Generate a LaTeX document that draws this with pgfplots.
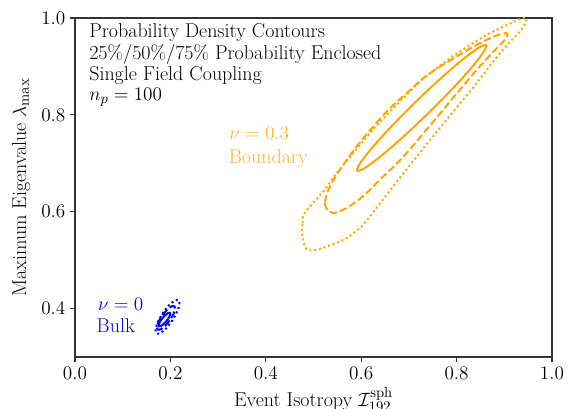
\documentclass[border=0pt]{standalone}
\usepackage{pgfplots}
\pgfplotsset{compat=1.18}

\definecolor{mplorange}{RGB}{255,165,0}
\definecolor{mplblue}{RGB}{0,0,255}

\newcommand{\txtfont}{\fontsize{15}{16}\selectfont}
\newcommand{\tckfont}{\fontsize{15.5}{17}\selectfont}

\pgfplotsset{
  c25/.style={line width=1.5pt, smooth, tension=0.55},
  c50/.style={line width=1.5pt, smooth, tension=0.55, dash pattern=on 5.5pt off 2.4pt},
  c75/.style={line width=1.5pt, smooth, tension=0.55, line cap=butt, dash pattern=on 1.5pt off 2.1pt},
}

\begin{document}
\begin{tikzpicture}
\begin{axis}[
  name=ax,
  scale only axis,
  width=357.75pt, height=254.25pt,
  xmin=0, xmax=1, ymin=0.3, ymax=1.0,
  xtick={0,0.2,0.4,0.6,0.8,1.0},
  ytick={0.4,0.6,0.8,1.0},
  tick align=outside,
  major tick length=3.75pt,
  tick style={black!80, line width=0.8pt},
  xtick pos=bottom, ytick pos=left,
  axis line style={black!80, line width=0.9pt},
  /pgf/number format/.cd, fixed, fixed zerofill, precision=1,
  /pgfplots/.cd,
  ticklabel style={font=\tckfont},
  xlabel={Event Isotropy $\mathcal{I}^{\mathrm{sph}}_{192}$},
  ylabel={Maximum Eigenvalue $\lambda_{\max}$},
  label style={font=\txtfont},
  xlabel style={at={(axis description cs:0.5,-0.1475)}, anchor=base},
  ylabel style={at={(axis description cs:-0.1027,0.5)}, anchor=base},
]

% nu = 0.3 (boundary): 25% enclosed
\addplot[c25, mplorange] coordinates {
(0.7390,0.8017) (0.6864,0.7531) (0.6400,0.7138) (0.6067,0.6897)
(0.5917,0.6847) (0.5972,0.6993) (0.6225,0.7315) (0.6635,0.7762)
(0.7142,0.8268) (0.7668,0.8754) (0.8132,0.9147) (0.8465,0.9387)
(0.8615,0.9438) (0.8561,0.9291) (0.8308,0.8969) (0.7898,0.8523)
(0.7390,0.8017)};

% nu = 0.3 (boundary): 50% enclosed
\addplot[c50, mplorange] coordinates {
(0.5241,0.6192) (0.5311,0.6454) (0.5555,0.6866) (0.5905,0.7347)
(0.6254,0.7760) (0.6603,0.8138) (0.6953,0.8447) (0.7302,0.8756)
(0.7652,0.8997) (0.8001,0.9203) (0.8350,0.9409) (0.8700,0.9581)
(0.8980,0.9684) (0.9063,0.9670) (0.9049,0.9601) (0.8944,0.9478)
(0.8770,0.9305) (0.8550,0.9070) (0.8350,0.8850) (0.8150,0.8610)
(0.7930,0.8360) (0.7650,0.8020) (0.7370,0.7700) (0.7100,0.7380)
(0.6880,0.7130) (0.6650,0.6900) (0.6390,0.6660) (0.6150,0.6420)
(0.5900,0.6210) (0.5625,0.6041) (0.5416,0.5973) (0.5290,0.6041)
(0.5241,0.6144) (0.5241,0.6192)};

% nu = 0.3 (boundary): 75% enclosed
\addplot[c75, mplorange] coordinates {
(0.4773,0.5766) (0.4787,0.5938) (0.4926,0.6110) (0.5206,0.6419)
(0.5485,0.6797) (0.5835,0.7210) (0.6184,0.7622) (0.6534,0.8000)
(0.6883,0.8344) (0.7232,0.8687) (0.7582,0.8962) (0.7931,0.9217)
(0.8281,0.9443) (0.8630,0.9650) (0.8980,0.9821) (0.9259,0.9945)
(0.9434,1.0014) (0.9455,0.9924) (0.9329,0.9718) (0.9155,0.9546)
(0.8910,0.9272) (0.8680,0.8990) (0.8420,0.8654) (0.8150,0.8330)
(0.7900,0.8030) (0.7650,0.7730) (0.7400,0.7430) (0.7100,0.7060)
(0.6780,0.6660) (0.6450,0.6240) (0.6180,0.5900) (0.5980,0.5670)
(0.5650,0.5430) (0.5300,0.5290) (0.4996,0.5203) (0.4856,0.5230)
(0.4787,0.5388) (0.4759,0.5594) (0.4773,0.5766)};

% nu = 0 (bulk): 25% enclosed
\addplot[c25, mplblue] coordinates {
(0.1917,0.3740) (0.1853,0.3676) (0.1796,0.3637) (0.1761,0.3635)
(0.1756,0.3670) (0.1783,0.3732) (0.1836,0.3806) (0.1899,0.3871)
(0.1956,0.3910) (0.1992,0.3911) (0.1997,0.3877) (0.1969,0.3814)
(0.1917,0.3740)};

% nu = 0 (bulk): 50% enclosed
\addplot[c50, mplblue] coordinates {
(0.1985,0.3753) (0.1887,0.3640) (0.1796,0.3572) (0.1734,0.3567)
(0.1719,0.3626) (0.1754,0.3734) (0.1831,0.3861) (0.1928,0.3974)
(0.2020,0.4042) (0.2082,0.4047) (0.2097,0.3988) (0.2061,0.3881)
(0.1985,0.3753)};

% nu = 0 (bulk): 75% enclosed
\addplot[c75, mplblue] coordinates {
(0.2045,0.3761) (0.1917,0.3598) (0.1796,0.3497) (0.1713,0.3485)
(0.1690,0.3564) (0.1735,0.3714) (0.1834,0.3895) (0.1961,0.4058)
(0.2082,0.4159) (0.2166,0.4171) (0.2188,0.4092) (0.2144,0.3941)
(0.2045,0.3761)};

% annotations
\node[anchor=base west, inner sep=0pt, font=\txtfont] at (axis cs:0.0294,0.9602) {Probability Density Contours};
\node[anchor=base west, inner sep=0pt, font=\txtfont] at (axis cs:0.0294,0.9148) {25\%/50\%/75\% Probability Enclosed};
\node[anchor=base west, inner sep=0pt, font=\txtfont] at (axis cs:0.0294,0.8707) {Single Field Coupling};
\node[anchor=base west, inner sep=0pt, font=\txtfont] at (axis cs:0.0294,0.8295) {$n_p = 100$};

\node[anchor=base west, inner sep=0pt, font=\txtfont, text=mplorange!85] at (axis cs:0.323,0.7485) {$\nu = 0.3$};
\node[anchor=base west, inner sep=0pt, font=\txtfont, text=mplorange!85] at (axis cs:0.322,0.7004) {Boundary};
\node[anchor=base west, inner sep=0pt, font=\txtfont, text=mplblue] at (axis cs:0.048,0.3965) {$\nu = 0$};
\node[anchor=base west, inner sep=0pt, font=\txtfont, text=mplblue] at (axis cs:0.045,0.3500) {Bulk};
\end{axis}
\pgfresetboundingbox
\useasboundingbox ([shift={(-56.25pt,-39pt)}]ax.south west) rectangle ([shift={(12pt,13.5pt)}]ax.north east);
\end{tikzpicture}
\end{document}
